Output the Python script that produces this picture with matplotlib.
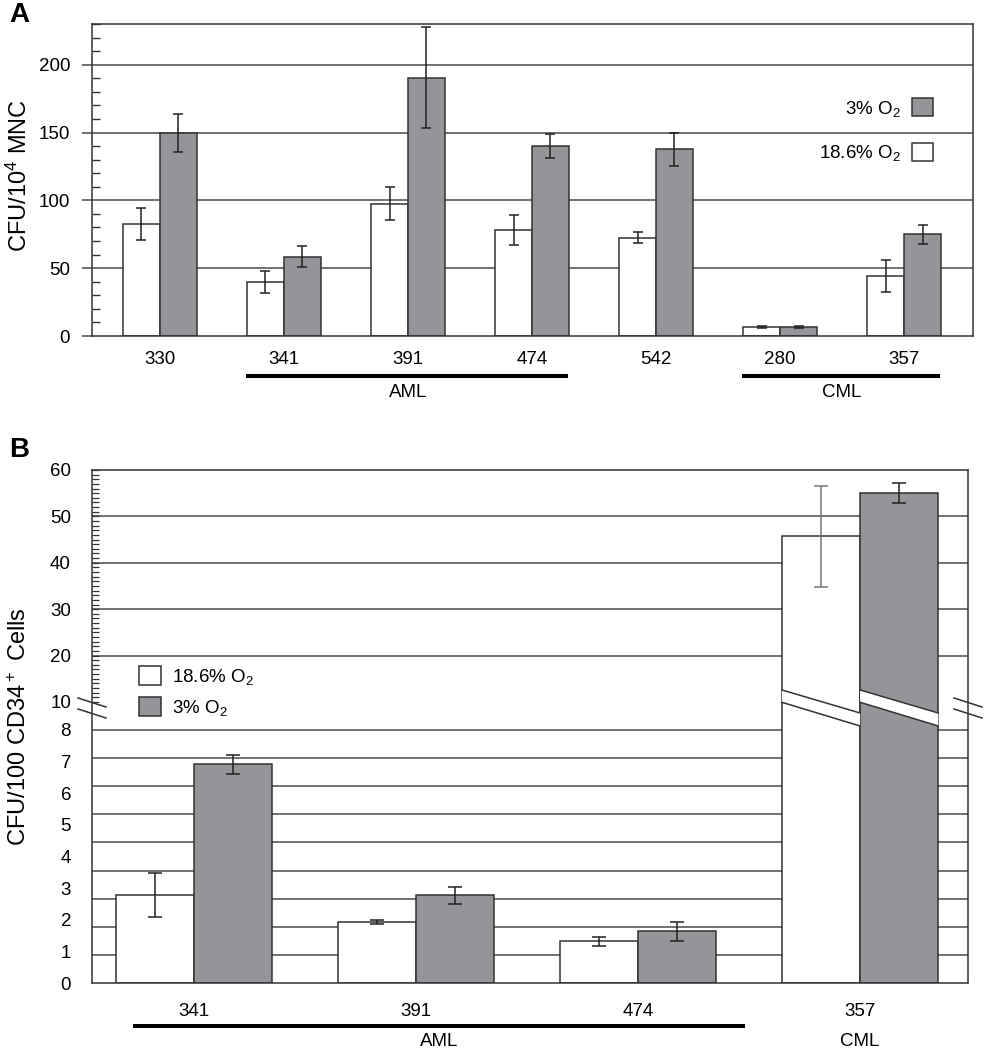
import numpy as np
import matplotlib
matplotlib.use("Agg")
import matplotlib.pyplot as plt
from matplotlib.ticker import MultipleLocator, FixedLocator
from matplotlib.patches import Polygon
import matplotlib.transforms as mtransforms

plt.rcParams['font.family'] = ['Liberation Sans', 'DejaVu Sans']
plt.rcParams['mathtext.fontset'] = 'custom'
plt.rcParams['mathtext.rm'] = 'Liberation Sans'

# ---------------- data ----------------
a_categories = ['330', '341', '391', '474', '542', '280', '357']
a_normoxia = [82.5, 40, 97.5, 78, 72.5, 6.5, 44]
a_normoxia_err = [12, 8, 12, 11, 4.3, 0.6, 11.7]
a_hypoxia = [149.5, 58.5, 190.5, 140, 137.5, 6.5, 75]
a_hypoxia_err = [14, 7.5, 37, 9, 12, 0.6, 7]
a_groups = [('AML', 1, 3), ('CML', 5, 6)]

b_categories = ['341', '391', '474', '357']
b_normoxia = [2.78, 1.92, 1.32, 45.7]
b_normoxia_err = [0.7, 0.06, 0.14, 10.9]
b_hypoxia = [6.92, 2.77, 1.63, 55.0]
b_hypoxia_err = [0.3, 0.27, 0.3, 2.1]
b_groups = [('AML', 0, 2), ('CML', 3, 3)]

label_norm = '18.6% O$\\mathregular{_2}$'
label_hyp = '3% O$\\mathregular{_2}$'

# ---------------- style ----------------
GRAY = '#939598'
EDGE = '#333333'
GRID = '#4a4a4a'
FS = 13.5
px = 72 / 100.0  # points per pixel

fig = plt.figure(figsize=(9.84, 10.5), dpi=100)

# ================= Panel A =================
axA = fig.add_axes([92 / 984, 1 - 336 / 1050, 881 / 984, 312 / 1050])
xa = np.arange(len(a_categories))
wA = 0.298
axA.bar(xa - wA, a_normoxia, wA, align='edge', color='white', edgecolor=EDGE,
        linewidth=1.1, zorder=2, label=label_norm)
axA.bar(xa, a_hypoxia, wA, align='edge', color=GRAY, edgecolor=EDGE,
        linewidth=1.1, zorder=2, label=label_hyp)
axA.errorbar(xa - wA / 2, a_normoxia, yerr=a_normoxia_err, fmt='none', ecolor='#222222',
             elinewidth=1.1, capsize=5 * px, capthick=1.1, zorder=3)
axA.errorbar(xa + wA / 2, a_hypoxia, yerr=a_hypoxia_err, fmt='none', ecolor='#222222',
             elinewidth=1.1, capsize=5 * px, capthick=1.1, zorder=3)
axA.set_xlim(-0.548, 6.556)
axA.set_ylim(0, 230)
axA.set_yticks([0, 50, 100, 150, 200])
axA.yaxis.set_minor_locator(MultipleLocator(10))
for y in [50, 100, 150, 200]:
    axA.axhline(y, color=GRID, lw=1.1, zorder=0.5)
axA.tick_params(axis='y', which='major', direction='out', length=10 * px, width=1.1,
                color=GRID, labelsize=FS, pad=12 * px)
axA.tick_params(axis='y', which='minor', direction='in', length=8 * px, width=1.0, color=EDGE)
axA.set_xticks(xa)
axA.set_xticklabels(a_categories)
axA.tick_params(axis='x', length=0, labelsize=FS, pad=15 * px)
for s in axA.spines.values():
    s.set_color(EDGE)
    s.set_linewidth(1.1)
axA.set_ylabel('CFU/10$\\mathregular{^4}$ MNC', fontsize=17, va='center')
axA.yaxis.set_label_coords(-0.083, 0.513)
trA = mtransforms.blended_transform_factory(axA.transData, axA.transAxes)
for name, i0, i1 in a_groups:
    axA.plot([i0 - 0.31, i1 + 0.29], [-0.128, -0.128], color='black', lw=4 * px,
             transform=trA, clip_on=False, solid_capstyle='butt')
    axA.text((i0 + i1) / 2, -0.18, name, transform=trA, ha='center', va='center', fontsize=FS)
hA, lA = axA.get_legend_handles_labels()
axA.legend([hA[1], hA[0]], [lA[1], lA[0]], loc='upper right',
           bbox_to_anchor=(0.9546, 0.762), frameon=False, markerfirst=False,
           fontsize=FS, handlelength=1.1, handleheight=1.1, labelspacing=1.3,
           handletextpad=0.6, borderpad=0, borderaxespad=0)
fig.text(19 / 984, 1 - 15 / 1050, 'A', fontsize=20, fontweight='bold', ha='center', va='center')

# ================= Panel B =================
axB = fig.add_axes([92 / 984, 1 - 983 / 1050, 876 / 984, 513 / 1050])
scale_vals = np.array([0.0, 8.0, 10.0, 60.0])
scale_pos = np.array([0.0, 253.0, 281.1, 513.0])


def fwd(v):
    v = np.asarray(v, dtype=float)
    out = np.interp(v, scale_vals, scale_pos)
    lo = v < scale_vals[0]
    hi = v > scale_vals[-1]
    s0 = (scale_pos[1] - scale_pos[0]) / (scale_vals[1] - scale_vals[0])
    s1 = (scale_pos[-1] - scale_pos[-2]) / (scale_vals[-1] - scale_vals[-2])
    out = np.where(lo, scale_pos[0] + (v - scale_vals[0]) * s0, out)
    out = np.where(hi, scale_pos[-1] + (v - scale_vals[-1]) * s1, out)
    return out


def inv(p):
    p = np.asarray(p, dtype=float)
    out = np.interp(p, scale_pos, scale_vals)
    lo = p < scale_pos[0]
    hi = p > scale_pos[-1]
    s0 = (scale_pos[1] - scale_pos[0]) / (scale_vals[1] - scale_vals[0])
    s1 = (scale_pos[-1] - scale_pos[-2]) / (scale_vals[-1] - scale_vals[-2])
    out = np.where(lo, scale_vals[0] + (p - scale_pos[0]) / s0, out)
    out = np.where(hi, scale_vals[-1] + (p - scale_pos[-1]) / s1, out)
    return out


axB.set_yscale('function', functions=(fwd, inv))
axB.set_ylim(0, 60)
xb = np.arange(len(b_categories))
wB = 0.352
axB.set_xlim(-0.459, 3.486)
axB.bar(xb - wB, b_normoxia, wB, align='edge', color='white', edgecolor=EDGE,
        linewidth=1.1, zorder=2, label=label_norm)
axB.bar(xb, b_hypoxia, wB, align='edge', color=GRAY, edgecolor=EDGE,
        linewidth=1.1, zorder=2, label=label_hyp)
ecol_n = ['#222222', '#222222', '#222222', '#777777']
for i in range(len(b_categories)):
    axB.errorbar(xb[i] - wB / 2, b_normoxia[i], yerr=b_normoxia_err[i], fmt='none',
                 ecolor=ecol_n[i], elinewidth=1.1, capsize=7 * px, capthick=1.1, zorder=3)
    axB.errorbar(xb[i] + wB / 2, b_hypoxia[i], yerr=b_hypoxia_err[i], fmt='none',
                 ecolor='#222222', elinewidth=1.1, capsize=7 * px, capthick=1.1, zorder=3)

# gridlines
for y in [20, 30, 40, 50]:
    axB.axhline(y, color=GRID, lw=1.1, zorder=0.5)
for y in np.linspace(0, 8, 10)[1:]:
    axB.axhline(y, color=GRID, lw=1.1, zorder=0.5)

major_b = list(range(0, 9)) + [10, 20, 30, 40, 50, 60]
axB.yaxis.set_major_locator(FixedLocator(major_b))
axB.yaxis.set_minor_locator(FixedLocator(np.arange(10, 61, 1)))
axB.yaxis.remove_overlapping_locs = False
axB.tick_params(axis='y', which='major', length=0, labelsize=FS, pad=21 * px)
axB.tick_params(axis='y', which='minor', direction='in', length=7 * px, width=0.9, color=EDGE)
axB.set_xticks(xb)
axB.set_xticklabels(b_categories)
axB.tick_params(axis='x', length=0, labelsize=FS, pad=20 * px)
for s in axB.spines.values():
    s.set_color(EDGE)
    s.set_linewidth(1.1)
axB.set_ylabel('CFU/100 CD34$\\mathregular{^+}$ Cells', fontsize=17, va='center')
axB.yaxis.set_label_coords(-0.083, 0.50)

trB = mtransforms.blended_transform_factory(axB.transData, axB.transAxes)
# group labels
name, i0, i1 = b_groups[0]
axB.plot([i0 - 0.275, i1 + 0.48], [-0.0838, -0.0838], color='black', lw=4 * px,
         transform=trB, clip_on=False, solid_capstyle='butt')
axB.text((i0 - 0.275 + i1 + 0.48) / 2, -0.115, name, transform=trB, ha='center',
         va='center', fontsize=FS)
name, i0, i1 = b_groups[1]
axB.text((i0 + i1) / 2, -0.115, name, transform=trB, ha='center', va='center', fontsize=FS)

# break band through the tall bars
brk_up = (0.5712, 0.5263)
brk_lo = (0.5472, 0.5010)
ib = b_groups[1][1]
for x0 in [xb[ib] - wB, xb[ib]]:
    x1 = x0 + wB
    poly = Polygon([[x0, brk_up[0]], [x1, brk_up[1]], [x1, brk_lo[1]], [x0, brk_lo[0]]],
                   closed=True, transform=trB, facecolor='white', edgecolor='none', zorder=4)
    axB.add_patch(poly)
    axB.plot([x0, x1], list(brk_up), color=EDGE, lw=1.1, transform=trB, zorder=5)
    axB.plot([x0, x1], list(brk_lo), color=EDGE, lw=1.1, transform=trB, zorder=5)

# axis break marks
for xc in [0.0, 1.0]:
    for yy in [(0.5556, 0.538), (0.5341, 0.5166)]:
        axB.plot([xc - 0.016, xc + 0.016], list(yy), color=EDGE, lw=1.1,
                 transform=axB.transAxes, clip_on=False, zorder=6)

hB, lB = axB.get_legend_handles_labels()
axB.legend(hB, lB, loc='upper left', bbox_to_anchor=(0.0537, 0.618), frameon=False,
           fontsize=FS, handlelength=1.15, handleheight=1.15, labelspacing=0.55,
           handletextpad=0.6, borderpad=0, borderaxespad=0)
fig.text(19 / 984, 1 - 450 / 1050, 'B', fontsize=20, fontweight='bold', ha='center', va='center')

fig.savefig('out.png', dpi=100)
